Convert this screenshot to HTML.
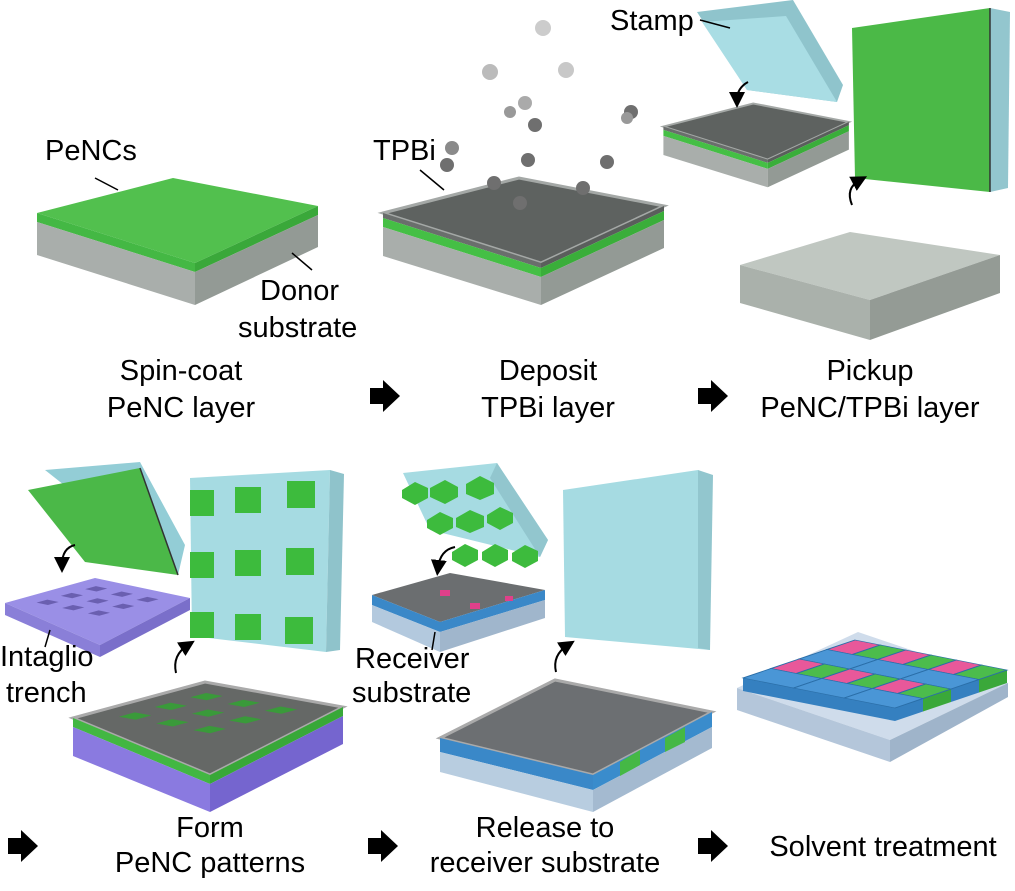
<!DOCTYPE html>
<html><head><meta charset="utf-8"><style>
body{margin:0;background:#fff;width:1015px;height:891px;overflow:hidden}
svg{display:block}
text{font-family:"Liberation Sans",Arial,sans-serif;font-size:29px;fill:#000}
</style></head><body>
<svg width="1015" height="891" viewBox="0 0 1015 891" xmlns="http://www.w3.org/2000/svg">
<defs>
<g id="slab2">
  <polygon points="37,213 173,178 318,206 195,263" fill="#5e6260" stroke="#a4a8a6" stroke-width="3"/>
  <polygon points="37,213 195,263 195,268 37,218" fill="#6a6e6c"/>
  <polygon points="195,263 318,206 318,211 195,268" fill="#5a5e5c"/>
  <polygon points="37,218 195,268 195,277 37,227" fill="#45bf45"/>
  <polygon points="195,268 318,211 318,220 195,277" fill="#3aae3a"/>
  <polygon points="37,227 195,277 195,305 37,256" fill="#a9aeab"/>
  <polygon points="195,277 318,220 318,248 195,305" fill="#939a95"/>
</g>
<marker id="ah" markerWidth="8" markerHeight="8" refX="4" refY="4" orient="auto"><path d="M0,0 L8,4 L0,8 z" fill="#000"/></marker>
</defs>

<!-- Panel 1 -->
<polygon points="37,213 173,178 318,206 195,263" fill="#52c04e"/>
<polygon points="37,213 195,263 195,272 37,222" fill="#44b844"/>
<polygon points="195,263 318,206 318,215 195,272" fill="#3aa83a"/>
<polygon points="37,222 195,272 195,305 37,255" fill="#a9aeab"/>
<polygon points="195,272 318,215 318,247 195,305" fill="#939a95"/>
<line x1="95" y1="178" x2="118" y2="190" stroke="#000" stroke-width="1.5"/>
<line x1="292" y1="253" x2="312" y2="270" stroke="#000" stroke-width="1.5"/>
<text x="45" y="160">PeNCs</text>
<text x="260" y="300">Donor</text>
<text x="238" y="337">substrate</text>

<!-- Panel 2 -->
<use href="#slab2" transform="translate(346,0)"/>
<g fill="#6f6f6f">
<circle cx="452" cy="148" r="7" fill="#8a8a8a"/><circle cx="447" cy="165" r="7"/>
<circle cx="528" cy="160" r="7"/><circle cx="607" cy="162" r="7"/>
<circle cx="494" cy="183" r="7"/><circle cx="583" cy="188" r="7"/><circle cx="520" cy="203" r="7"/>
<circle cx="535" cy="125" r="7"/><circle cx="510" cy="112" r="6" fill="#999"/>
<circle cx="525" cy="103" r="7" fill="#aaa"/><circle cx="631" cy="112" r="7"/>
<circle cx="627" cy="118" r="6" fill="#999"/>
<circle cx="543" cy="28" r="8" fill="#ccc"/><circle cx="490" cy="72" r="8" fill="#bbb"/><circle cx="566" cy="70" r="8" fill="#c8c8c8"/>
</g>
<line x1="420" y1="170" x2="444" y2="190" stroke="#000" stroke-width="1.5"/>
<text x="373" y="160">TPBi</text>

<!-- Panel 3 -->
<polygon points="697,12 793,0 843,85 837,102 747,90" fill="#8fc4cc"/>
<polygon points="702,22 786,16 837,102 747,90" fill="#a9dde4"/>
<line x1="700" y1="20" x2="730" y2="28" stroke="#000" stroke-width="1.5"/>
<text x="610" y="30">Stamp</text>
<use href="#slab2" transform="translate(639,-14) scale(0.66)"/>
<path d="M748,82 Q737,88 737,100" stroke="#000" stroke-width="2" fill="none" marker-end="url(#ah)"/>
<polygon points="852,28 990,8 990,192 855,178" fill="#4bb947"/>
<polygon points="990,8 1010,12 1008,188 990,192" fill="#93c6ce"/>
<line x1="990" y1="8" x2="990" y2="192" stroke="#333" stroke-width="1.5"/>
<path d="M852,205 Q845,188 860,180" stroke="#000" stroke-width="2" fill="none" marker-end="url(#ah)"/>
<polygon points="740,265 850,232 1000,255 870,300" fill="#c0c7c1"/>
<polygon points="740,265 870,300 870,340 740,303" fill="#aab1ab"/>
<polygon points="870,300 1000,255 1000,293 870,340" fill="#949b95"/>

<!-- Row 1 labels -->
<text x="181" y="380" text-anchor="middle">Spin-coat</text>
<text x="181" y="417" text-anchor="middle">PeNC layer</text>
<text x="548" y="380" text-anchor="middle">Deposit</text>
<text x="548" y="417" text-anchor="middle">TPBi layer</text>
<text x="870" y="380" text-anchor="middle">Pickup</text>
<text x="870" y="417" text-anchor="middle">PeNC/TPBi layer</text>
<g fill="#000">
<polygon points="370,388 383,388 383,380 400,396 383,412 383,404 370,404"/>
<polygon points="698,388 711,388 711,380 728,396 711,412 711,404 698,404"/>
<polygon points="8,838 21,838 21,830 38,846 21,862 21,854 8,854"/>
<polygon points="368,838 381,838 381,830 398,846 381,862 381,854 368,854"/>
<polygon points="698,838 711,838 711,830 728,846 711,862 711,854 698,854"/>
</g>

<!-- Panel 4 -->
<polygon points="45,470 140,462 185,545 178,575" fill="#93cdd6"/>
<polygon points="28,490 140,468 178,575 85,562" fill="#4bb848"/>
<line x1="140" y1="468" x2="178" y2="575" stroke="#333" stroke-width="1.5"/>
<path d="M75,545 Q62,548 62,565" stroke="#000" stroke-width="2" fill="none" marker-end="url(#ah)"/>
<polygon points="5,603 95,578 190,598 100,645" fill="#9a8fe6"/>
<polygon points="5,603 100,645 100,657 5,615" fill="#8a7fd8"/>
<polygon points="100,645 190,598 190,610 100,657" fill="#7a6fca"/>
<g transform="matrix(95,20,-90,25,95,578)" fill="#6a5fb0">
<rect x="0.18" y="0.18" width="0.12" height="0.12"/><rect x="0.45" y="0.18" width="0.12" height="0.12"/><rect x="0.72" y="0.18" width="0.12" height="0.12"/>
<rect x="0.18" y="0.45" width="0.12" height="0.12"/><rect x="0.45" y="0.45" width="0.12" height="0.12"/><rect x="0.72" y="0.45" width="0.12" height="0.12"/>
<rect x="0.18" y="0.72" width="0.12" height="0.12"/><rect x="0.45" y="0.72" width="0.12" height="0.12"/><rect x="0.72" y="0.72" width="0.12" height="0.12"/>
</g>
<line x1="50" y1="630" x2="45" y2="647" stroke="#000" stroke-width="1.5"/>
<text x="0" y="666">Intaglio</text>
<text x="6" y="702">trench</text>
<polygon points="190,478 330,470 326,652 192,636" fill="#a6dbe2"/>
<polygon points="330,470 344,474 340,650 326,652" fill="#8fc3cb"/>
<g fill="#3dbb3d">
<rect x="190" y="490" width="24" height="26"/><rect x="235" y="487" width="26" height="26"/><rect x="287" y="481" width="28" height="27"/>
<rect x="190" y="552" width="24" height="26"/><rect x="235" y="550" width="26" height="26"/><rect x="286" y="548" width="28" height="27"/>
<rect x="190" y="612" width="24" height="26"/><rect x="235" y="614" width="26" height="26"/><rect x="285" y="617" width="28" height="27"/>
</g>
<path d="M176,673 Q172,655 188,645" stroke="#000" stroke-width="2" fill="none" marker-end="url(#ah)"/>
<polygon points="73,718 205,682 343,707 210,775" fill="#656866" stroke="#aaa" stroke-width="3"/>
<polygon points="73,718 210,775 210,784 73,727" fill="#42b742"/>
<polygon points="210,775 343,707 343,716 210,784" fill="#38a838"/>
<polygon points="73,727 210,784 210,812 73,756" fill="#8a7ae0"/>
<polygon points="210,784 343,716 343,744 210,812" fill="#7565cf"/>
<g transform="matrix(138,25,-132,36,205,682)" fill="#3a9a3a">
<rect x="0.18" y="0.18" width="0.12" height="0.12"/><rect x="0.45" y="0.18" width="0.12" height="0.12"/><rect x="0.72" y="0.18" width="0.12" height="0.12"/>
<rect x="0.18" y="0.45" width="0.12" height="0.12"/><rect x="0.45" y="0.45" width="0.12" height="0.12"/><rect x="0.72" y="0.45" width="0.12" height="0.12"/>
<rect x="0.18" y="0.72" width="0.12" height="0.12"/><rect x="0.45" y="0.72" width="0.12" height="0.12"/><rect x="0.72" y="0.72" width="0.12" height="0.12"/>
</g>
<text x="210" y="837" text-anchor="middle">Form</text>
<text x="210" y="872" text-anchor="middle">PeNC patterns</text>

<!-- Panel 5 -->
<polygon points="403,473 497,463 548,540 540,557 430,530" fill="#a6dbe2"/>
<polygon points="497,463 548,540 540,557 490,478" fill="#92c6ce"/>
<g fill="#3dbb3d">
<polygon points="402,490 415,482 428,488 428,498 415,505 402,498"/>
<polygon points="430,488 445,480 458,487 458,497 445,504 430,497"/>
<polygon points="466,484 480,476 494,483 494,494 480,500 466,494"/>
<polygon points="427,520 440,512 453,518 453,528 440,535 427,528"/>
<polygon points="456,518 470,510 484,516 484,527 470,533 456,527"/>
<polygon points="487,515 500,507 513,513 513,523 500,530 487,523"/>
<polygon points="452,552 465,544 478,550 478,560 465,567 452,560"/>
<polygon points="482,552 495,544 508,550 508,560 495,567 482,560"/>
<polygon points="512,553 525,545 538,551 538,561 525,568 512,561"/>
</g>
<path d="M455,547 Q440,550 438,568" stroke="#000" stroke-width="2" fill="none" marker-end="url(#ah)"/>
<polygon points="372,595 450,573 545,590 440,622" fill="#6b6e70"/>
<polygon points="372,595 440,622 440,632 372,605" fill="#3a88c8"/>
<polygon points="440,622 545,590 545,600 440,632" fill="#3a88c8"/>
<polygon points="372,605 440,632 440,652 372,622" fill="#b3c9de"/>
<polygon points="440,632 545,600 545,618 440,652" fill="#a0b6cc"/>
<g fill="#e0408a"><rect x="440" y="590" width="10" height="6"/><rect x="470" y="603" width="10" height="6"/><rect x="505" y="596" width="8" height="5"/></g>
<line x1="435" y1="632" x2="432" y2="650" stroke="#000" stroke-width="1.5"/>
<text x="355" y="668">Receiver</text>
<text x="352" y="702">substrate</text>
<polygon points="563,490 698,470 710,650 565,637" fill="#a6dbe2"/>
<polygon points="698,470 713,475 710,650 698,648" fill="#92c6ce"/>
<path d="M556,672 Q552,655 568,645" stroke="#000" stroke-width="2" fill="none" marker-end="url(#ah)"/>
<polygon points="440,738 555,680 712,712 593,775" fill="#6c6f72" stroke="#aaa" stroke-width="3"/>
<polygon points="440,738 593,775 593,790 440,752" fill="#3a88c8"/>
<polygon points="593,775 712,712 712,727 593,790" fill="#3a8ccc"/>
<polygon points="440,752 593,790 593,812 440,772" fill="#b8cde0"/>
<polygon points="593,790 712,727 712,748 593,812" fill="#a4bad0"/>
<g fill="#45b845"><polygon points="620,762 640,750 640,765 620,776"/><polygon points="665,738 685,727 685,742 665,752"/></g>
<text x="545" y="837" text-anchor="middle">Release to</text>
<text x="545" y="872" text-anchor="middle">receiver substrate</text>

<!-- Panel 6 -->
<polygon points="737,688 858,632 1008,683 890,740" fill="#cfdceb"/>
<polygon points="737,688 890,740 890,762 737,710" fill="#b4c6da"/>
<polygon points="890,740 1008,683 1008,697 890,762" fill="#9fb4ca"/>
<polygon points="743,678 895,708 895,721 743,691" fill="#3580c0"/>
<polygon points="895,708 923,698.5 923,711.5 895,721" fill="#3580c0"/>
<polygon points="923,698.5 951,689 951,702 923,711.5" fill="#3aa83a"/>
<polygon points="951,689 979,679.5 979,692.5 951,702" fill="#3580c0"/>
<polygon points="979,679.5 1007,670 1007,683 979,692.5" fill="#3aa83a"/>
<g transform="matrix(152,30,-112,38,855,640)" stroke="#2a6ea8" stroke-width="0.012">
<rect x="0" y="0" width="0.1667" height="0.25" fill="#e8589a"/><rect x="0.1667" y="0" width="0.1667" height="0.25" fill="#4cbc4c"/>
<rect x="0.3333" y="0" width="0.1667" height="0.25" fill="#e8589a"/><rect x="0.5" y="0" width="0.1667" height="0.25" fill="#4cbc4c"/>
<rect x="0.6667" y="0" width="0.1667" height="0.25" fill="#e8589a"/><rect x="0.8333" y="0" width="0.1667" height="0.25" fill="#4cbc4c"/>
<rect x="0" y="0.25" width="0.3333" height="0.25" fill="#4a96d6"/><rect x="0.3333" y="0.25" width="0.3333" height="0.25" fill="#4a96d6"/><rect x="0.6667" y="0.25" width="0.3333" height="0.25" fill="#4a96d6"/>
<rect x="0" y="0.5" width="0.1667" height="0.25" fill="#e8589a"/><rect x="0.1667" y="0.5" width="0.1667" height="0.25" fill="#4cbc4c"/>
<rect x="0.3333" y="0.5" width="0.1667" height="0.25" fill="#e8589a"/><rect x="0.5" y="0.5" width="0.1667" height="0.25" fill="#4cbc4c"/>
<rect x="0.6667" y="0.5" width="0.1667" height="0.25" fill="#e8589a"/><rect x="0.8333" y="0.5" width="0.1667" height="0.25" fill="#4cbc4c"/>
<rect x="0" y="0.75" width="0.3333" height="0.25" fill="#4a96d6"/><rect x="0.3333" y="0.75" width="0.3333" height="0.25" fill="#4a96d6"/><rect x="0.6667" y="0.75" width="0.3333" height="0.25" fill="#4a96d6"/>
</g>
<text x="883" y="856" text-anchor="middle">Solvent treatment</text>
</svg>
</body></html>
